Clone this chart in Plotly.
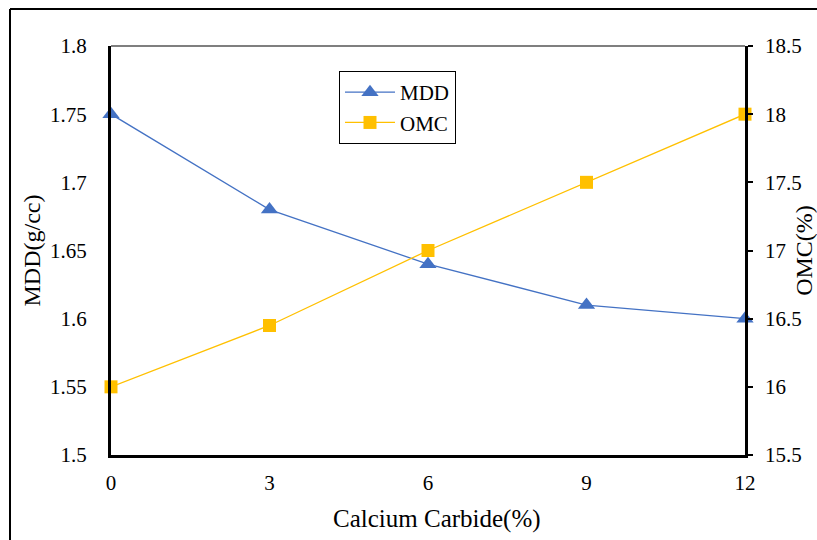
import plotly.graph_objects as go

carbide = [0, 3, 6, 9, 12]
mdd = [1.75, 1.68, 1.64, 1.61, 1.60]
omc = [16.0, 16.45, 17.0, 17.5, 18.0]
x_ticks = [0, 3, 6, 9, 12]
y1_ticks = [1.5, 1.55, 1.6, 1.65, 1.7, 1.75, 1.8]
y1_labels = ["1.5", "1.55", "1.6", "1.65", "1.7", "1.75", "1.8"]
y2_ticks = [15.5, 16, 16.5, 17, 17.5, 18, 18.5]
y2_labels = ["15.5", "16", "16.5", "17", "17.5", "18", "18.5"]

FONT = "Times New Roman, Liberation Serif, DejaVu Serif, serif"

fig = go.Figure()
fig.add_trace(go.Scatter(
    x=carbide, y=mdd, name="MDD", mode="lines+markers",
    line=dict(color="#4472C4", width=1.3),
    marker=dict(symbol="triangle-up", size=15, color="#4472C4"),
    cliponaxis=False,
))
fig.add_trace(go.Scatter(
    x=carbide, y=omc, name="OMC", mode="lines+markers", yaxis="y2",
    line=dict(color="#FFC000", width=1.3),
    marker=dict(symbol="square", size=13, color="#FFC000"),
    cliponaxis=False,
))

W, H = 817, 540
L, R, T, B = 111, 72, 46, 85
pw, ph = W - L - R, H - T - B

def px(x):
    return (x - L) / pw

def py(y):
    return (H - B - y) / ph

fig.update_layout(
    width=W, height=H,
    margin=dict(l=L, r=R, t=T, b=B, autoexpand=False),
    paper_bgcolor="white", plot_bgcolor="white",
    font=dict(family=FONT, size=21, color="black"),
    showlegend=True,
    legend=dict(
        x=px(339), y=py(71), xanchor="left", yanchor="top",
        bgcolor="white", bordercolor="black", borderwidth=1,
        font=dict(family=FONT, size=21),
        tracegroupgap=0, itemwidth=50,
    ),
    xaxis=dict(
        range=[0, 12], tickvals=x_ticks, ticktext=[str(v) for v in x_ticks],
        showgrid=False, zeroline=False, showline=True, linecolor="black", linewidth=3,
        ticks="", ticklabelstandoff=7, automargin=False,
        tickfont=dict(family=FONT, size=21),
    ),
    yaxis=dict(
        range=[1.5, 1.8], tickvals=y1_ticks, ticktext=y1_labels,
        showgrid=False, zeroline=False, showline=True, linecolor="black", linewidth=3,
        ticks="", ticklabelstandoff=17, automargin=False,
        title=dict(text="MDD(g/cc)", font=dict(family=FONT, size=24), standoff=3),
        tickfont=dict(family=FONT, size=21),
    ),
    yaxis2=dict(
        range=[15.5, 18.5], tickvals=y2_ticks, ticktext=y2_labels,
        overlaying="y", side="right", automargin=False,
        showgrid=False, zeroline=False, showline=True, linecolor="black", linewidth=2.5,
        ticks="outside", ticklen=5, tickwidth=1.5, tickcolor="black", ticklabelstandoff=8,
        title=dict(text="OMC(%)", font=dict(family=FONT, size=24), standoff=6),
        tickfont=dict(family=FONT, size=21),
    ),
    annotations=[
        dict(text="Calcium Carbide(%)", xref="paper", yref="paper",
             x=px(437), y=py(519), xanchor="center", yanchor="middle",
             showarrow=False, font=dict(family=FONT, size=25, color="black")),
    ],
    shapes=[
        dict(type="line", xref="paper", yref="paper", x0=0, x1=1, y0=1, y1=1,
             line=dict(color="black", width=1.2)),
        dict(type="line", xref="paper", yref="paper", x0=px(10), x1=px(830), y0=py(9), y1=py(9),
             line=dict(color="black", width=2)),
        dict(type="line", xref="paper", yref="paper", x0=px(10), x1=px(10), y0=py(9), y1=py(560),
             line=dict(color="black", width=2)),
    ],
)

fig.write_html("out.html")
